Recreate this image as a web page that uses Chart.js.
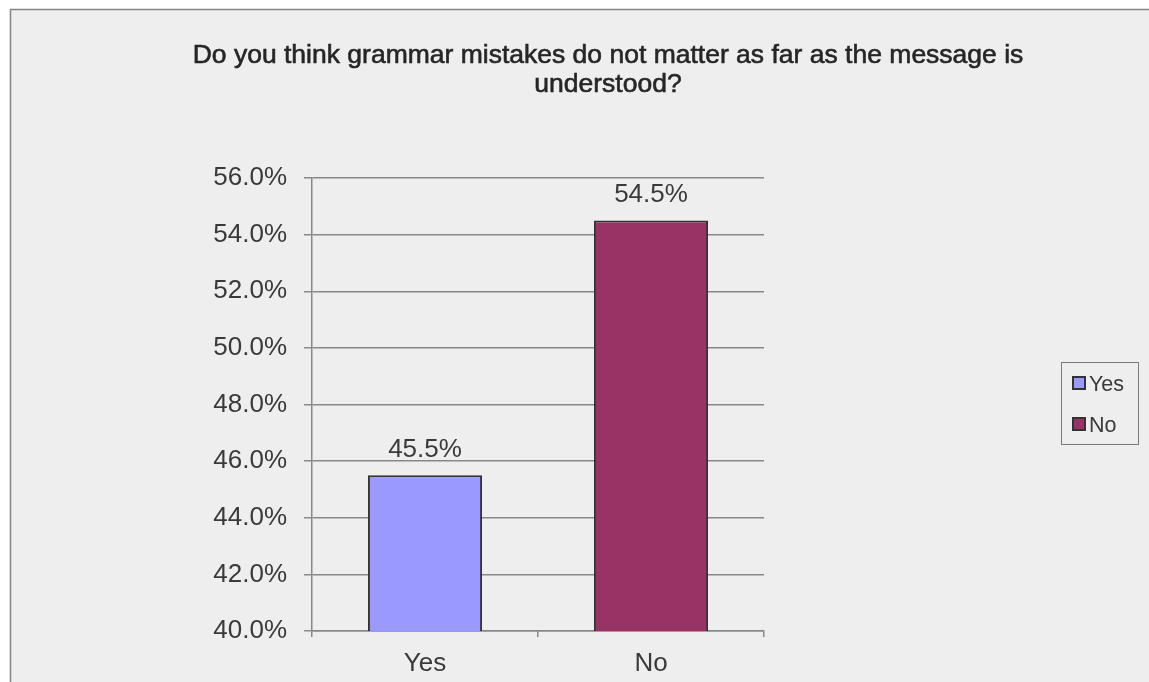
<!DOCTYPE html>
<html>
<head>
<meta charset="utf-8">
<script src="https://cdn.jsdelivr.net/npm/chart.js@4"></script>
<style>
  body { margin: 0; background: #fff; }
  #chart1 { display: block; }
</style>
</head>
<body>
<canvas id="chart1" width="1149" height="682"></canvas>
<script>
let ctx1 = document.getElementById('chart1');

// survey answers
const answers = ['Yes', 'No'];
const percent = [45.5, 54.5];
const barColors = ['#9999ff', '#993366'];
const titleLines = ['Do you think grammar mistakes do not matter as far as the message is', 'understood?'];

const FONT = '"Liberation Sans", Arial, sans-serif';
const TXT = '#3a3a3a';

// grey panel behind the chart, with its frame
const panel = {
    id: 'panel',
    beforeDraw(chart) {
        let c = chart.ctx;
        c.save();
        c.fillStyle = '#fff';
        c.fillRect(0, 0, chart.width, chart.height);
        c.fillStyle = '#eeeeee';
        c.fillRect(10, 10, chart.width, chart.height);
        c.strokeStyle = '#858585';
        c.lineWidth = 1.5;
        c.beginPath();
        c.moveTo(10.5, chart.height + 5);
        c.lineTo(10.5, 9.5);
        c.lineTo(chart.width + 5, 9.5);
        c.stroke();
        c.restore();
    }
};

// two-line heading, centred on the panel (a thin stroke makes it a bit heavier)
const heading = {
    id: 'heading',
    afterDraw(chart) {
        let c = chart.ctx;
        c.save();
        c.font = '26.5px ' + FONT;
        c.fillStyle = '#262626';
        c.strokeStyle = '#262626';
        c.lineWidth = 0.6;
        c.textAlign = 'center';
        c.textBaseline = 'alphabetic';
        titleLines.forEach((line, i) => {
            c.fillText(line, 608, 63 + i * 29);
            c.strokeText(line, 608, 63 + i * 29);
        });
        c.restore();
    }
};

// value printed over every bar
const barValues = {
    id: 'barValues',
    afterDatasetsDraw(chart) {
        let c = chart.ctx;
        let meta = chart.getDatasetMeta(0);
        c.save();
        c.font = '26px ' + FONT;
        c.fillStyle = TXT;
        c.textAlign = 'center';
        c.textBaseline = 'alphabetic';
        meta.data.forEach((bar, i) => {
            c.fillText(percent[i].toFixed(1) + '%', bar.x, bar.y - 18);
        });
        c.restore();
    }
};

// boxed legend on the right
const sideLegend = {
    id: 'sideLegend',
    afterDraw(chart) {
        let c = chart.ctx;
        c.save();
        c.strokeStyle = '#7a7a7a';
        c.lineWidth = 1;
        c.strokeRect(1061.5, 362.5, 77, 82);
        c.font = '21.5px ' + FONT;
        c.textBaseline = 'alphabetic';
        c.textAlign = 'left';
        answers.forEach((a, i) => {
            let y = 383 + i * 41;
            c.fillStyle = barColors[i];
            c.fillRect(1073, y - 6, 12, 12);
            c.strokeStyle = '#333';
            c.lineWidth = 2;
            c.strokeRect(1073, y - 6, 12, 12);
            c.fillStyle = TXT;
            c.fillText(a, 1089, y + 8);
        });
        c.restore();
    }
};

function setChart1(labels, data) {
    return {
        type: 'bar',
        data: {
            labels: labels,
            datasets: [{
                label: 'Answers',
                data: data,
                backgroundColor: barColors,
                borderColor: '#333',
                borderWidth: 2,
                borderSkipped: 'bottom',
                barPercentage: 0.505,
                categoryPercentage: 1
            }]
        },
        options: {
            responsive: false,
            animation: false,
            devicePixelRatio: 1,
            layout: {
                padding: { top: 178, left: 0, right: 385, bottom: 0 }
            },
            plugins: {
                legend: { display: false },
                title: { display: false },
                tooltip: { enabled: false }
            },
            scales: {
                x: {
                    afterFit: (s) => { s.height = 51; },
                    grid: {
                        offset: true,
                        drawOnChartArea: false,
                        drawTicks: true,
                        tickLength: 6,
                        color: '#888',
                        lineWidth: 1.5
                    },
                    border: { color: '#888', width: 1.5 },
                    ticks: {
                        color: TXT,
                        padding: 11,
                        font: { family: FONT, size: 26 }
                    }
                },
                y: {
                    min: 40,
                    max: 56,
                    afterFit: (s) => { s.width = 312; },
                    ticks: {
                        stepSize: 2,
                        color: TXT,
                        padding: 17,
                        font: { family: FONT, size: 26 },
                        callback: (v) => v.toFixed(1) + '%'
                    },
                    grid: {
                        color: '#888',
                        lineWidth: 1.5,
                        tickLength: 8
                    },
                    border: { color: '#888', width: 1.5 }
                }
            }
        },
        plugins: [panel, heading, barValues, sideLegend]
    };
}

let c1 = new Chart(ctx1, setChart1(answers, percent));
</script>
</body>
</html>
